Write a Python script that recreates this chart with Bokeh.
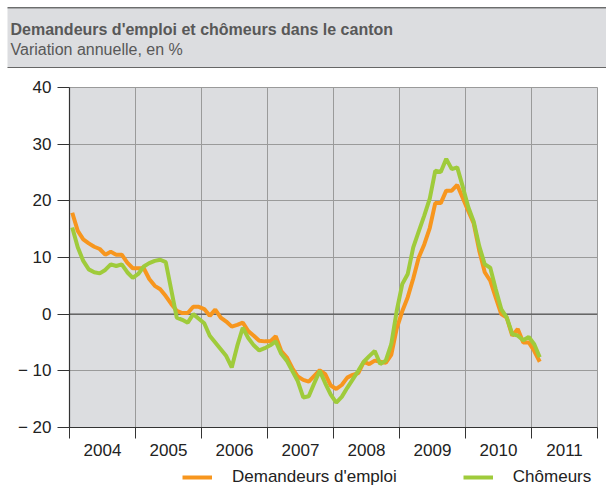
import numpy as np
from bokeh.plotting import figure
from bokeh.models import Range1d, FixedTicker, Span, Legend, LegendItem
from bokeh.layouts import column
from bokeh.embed import file_html
from bokeh.resources import INLINE
from bokeh.core.properties import value

# ---------------- data ----------------
title_text = "Demandeurs d'emploi et chômeurs dans le canton"
subtitle_text = "Variation annuelle, en %"
start_year = 2004
end_year = 2012
year_labels = ["2004", "2005", "2006", "2007", "2008", "2009", "2010", "2011"]
y_ticks = [-20, -10, 0, 10, 20, 30, 40]
y_tick_labels = ["\u2212 20", "\u2212 10", "0", "10", "20", "30", "40"]
series_names = ["Demandeurs d'emploi", "Chômeurs"]

# monthly values, January 2004 to February 2011
demandeurs = [
    17.9, 14.7, 13.2, 12.5, 11.9, 11.5, 10.5, 11.0, 10.5, 10.5, 9.1, 8.1,
    8.1, 8.1, 6.2, 5.0, 4.4, 3.2, 1.8, 0.6, 0.2, 0.2, 1.3, 1.3,
    0.9, -0.3, 0.8, -0.6, -1.3, -2.2, -1.9, -1.5, -3.0, -3.8, -4.7, -4.8,
    -4.8, -3.9, -6.5, -7.6, -9.5, -11.0, -11.6, -11.9, -10.9, -9.9, -10.6, -12.6,
    -13.2, -12.5, -11.2, -10.7, -10.4, -8.4, -8.8, -8.2, -8.4, -8.6, -7.2, -2.5,
    0.5, 3.0, 6.3, 10.0, 12.3, 15.2, 19.6, 19.6, 21.8, 21.8, 22.8, 20.5,
    18.2, 16.0, 11.2, 7.4, 5.9, 2.9, 0.0, -0.6, -3.8, -2.6, -5.0, -5.0,
    -6.5, -8.4,
]
chomeurs = [
    15.3, 11.8, 9.4, 7.9, 7.4, 7.2, 7.8, 8.8, 8.5, 8.8, 7.4, 6.4,
    7.1, 8.4, 9.0, 9.4, 9.6, 9.2, 4.3, -0.6, -1.0, -1.5, 0.0, -0.8,
    -1.6, -3.8, -5.0, -6.2, -7.4, -9.4, -5.6, -2.4, -4.2, -5.5, -6.4, -6.0,
    -5.5, -4.8, -7.0, -8.2, -10.0, -11.8, -14.7, -14.5, -12.2, -10.0, -12.2, -14.2,
    -15.6, -14.6, -13.0, -11.5, -10.0, -8.4, -7.4, -6.5, -8.8, -8.2, -5.3, 0.6,
    5.3, 7.1, 11.8, 14.6, 17.4, 20.4, 25.3, 25.1, 27.4, 25.6, 25.9, 22.5,
    18.9, 16.3, 12.0, 8.8, 8.2, 4.4, 0.9, -0.6, -3.5, -3.8, -4.6, -4.0,
    -5.3, -7.6,
]

# ---------------- style ----------------
FONT = "Liberation Sans"
BG = "#dcdde0"
GRID = "#9a9a9a"
DARK = "#333333"
ORANGE = "#f7961e"
GREEN = "#9fcb3b"
W = 606
HEADER_H = 68
MAIN_H = 400
LEG_H = 18

months = np.arange(len(demandeurs))
x = start_year + (months + 0.5) / 12.0

# ---------------- header band ----------------
header = figure(width=W, height=HEADER_H, x_range=Range1d(0, W), y_range=Range1d(0, HEADER_H),
                output_backend="svg", toolbar_location=None, min_border=0,
                x_axis_location=None, y_axis_location=None, title=None)
header.frame_align = False
header.grid.visible = False
header.background_fill_color = "white"
header.border_fill_color = "white"
header.outline_line_color = None
header.quad(left=[7], right=[W], bottom=[0.7], top=[60.7], fill_color=BG, line_color=None)
header.segment(x0=[7], x1=[W], y0=[60.7], y1=[60.7], line_color="#333333", line_width=1)
header.segment(x0=[7], x1=[W], y0=[0.7], y1=[0.7], line_color="#666666", line_width=1.5)
header.text(x=[10], y=[39], text=[title_text], text_font=value(FONT),
            text_font_size="16px", text_font_style="bold", text_color="#585858",
            text_baseline="alphabetic", text_align="left")
header.text(x=[10], y=[19], text=[subtitle_text], text_font=value(FONT),
            text_font_size="16px", text_color="#585858",
            text_baseline="alphabetic", text_align="left")

# ---------------- main chart ----------------
p = figure(width=W, height=MAIN_H, x_range=Range1d(start_year, end_year), y_range=Range1d(-20, 40),
           output_backend="svg", toolbar_location=None, title=None,
           min_border_left=69, min_border_right=9, min_border_top=19, min_border_bottom=41)
p.frame_align = False
p.background_fill_color = BG
p.border_fill_color = "white"
p.outline_line_color = GRID

year_bounds = list(range(start_year, end_year + 1))
year_mids = [start_year + k + 0.5 for k in range(len(year_labels))]

p.xaxis.ticker = FixedTicker(ticks=year_mids, minor_ticks=year_bounds)
p.xaxis.major_label_overrides = {m: lab for m, lab in zip(year_mids, year_labels)}
p.xaxis.major_tick_out = 0
p.xaxis.major_tick_in = 0
p.xaxis.minor_tick_out = 11
p.xaxis.minor_tick_in = 0
p.xaxis.minor_tick_line_color = DARK
p.xaxis.major_label_standoff = 5

p.yaxis.ticker = FixedTicker(ticks=y_ticks, minor_ticks=[])
p.yaxis.major_label_overrides = {t: lab for t, lab in zip(y_ticks, y_tick_labels)}
p.yaxis.major_tick_out = 12
p.yaxis.major_tick_in = 0
p.yaxis.major_label_standoff = 6

for ax in (p.xaxis, p.yaxis):
    ax.axis_line_color = DARK
    ax.axis_line_width = 1.2
    ax.major_tick_line_color = DARK
    ax.major_label_text_font = FONT
    ax.major_label_text_font_size = "17px"
    ax.major_label_text_color = "#222222"

p.xgrid.ticker = FixedTicker(ticks=year_bounds)
p.ygrid.ticker = FixedTicker(ticks=y_ticks)
p.grid.grid_line_color = GRID
p.grid.grid_line_width = 1

p.add_layout(Span(location=0, dimension="width", line_color="#555555", line_width=1.3, level="underlay"))

p.line(x, demandeurs, line_color=ORANGE, line_width=4)
p.line(x, chomeurs, line_color=GREEN, line_width=4)

# ---------------- legend strip ----------------
# the two series are repeated here only to give the legend its glyphs;
# the y range keeps them out of view in this thin strip
leg = figure(width=W, height=LEG_H, x_range=Range1d(start_year, end_year), y_range=Range1d(100, 101),
             output_backend="svg", toolbar_location=None, min_border=0,
             x_axis_location=None, y_axis_location=None, title=None)
leg.frame_align = False
leg.grid.visible = False
leg.outline_line_color = None
leg.background_fill_color = "white"
lr1 = leg.line(x, demandeurs, line_color=ORANGE, line_width=4)
lr2 = leg.line(x, chomeurs, line_color=GREEN, line_width=4)
legend = Legend(items=[LegendItem(label=series_names[0], renderers=[lr1]),
                       LegendItem(label=series_names[1], renderers=[lr2])],
                location=(182, -1), orientation="horizontal",
                glyph_width=30, glyph_height=20, label_height=20, label_standoff=20, spacing=66,
                padding=0, margin=0, border_line_alpha=0, background_fill_alpha=0,
                label_text_font=FONT, label_text_font_size="17px", label_text_color="#222222")
leg.add_layout(legend, "center")

layout = column(header, p, leg, spacing=0)
open("out.html", "w").write(file_html(layout, INLINE))
